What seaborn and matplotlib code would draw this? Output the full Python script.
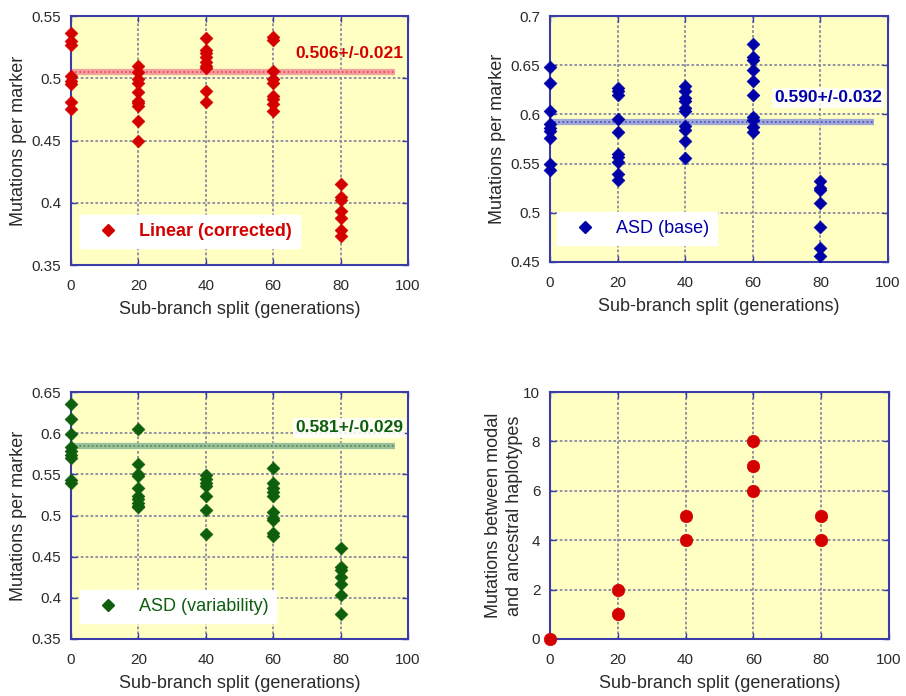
import numpy as np
import pandas as pd
import matplotlib
matplotlib.use("Agg")
import matplotlib.pyplot as plt
import seaborn as sns
from matplotlib.lines import Line2D

sns.set_theme(style="white")
plt.rcParams['font.family'] = ['Liberation Sans', 'DejaVu Sans']

# ---------------- data ----------------
lin_x0 = [0.536, 0.530, 0.527, 0.502, 0.498, 0.495, 0.481, 0.475]
lin_x20 = [0.510, 0.505, 0.499, 0.496, 0.489, 0.482, 0.480, 0.478, 0.466, 0.450]
lin_x40 = [0.532, 0.523, 0.520, 0.517, 0.513, 0.510, 0.508, 0.490, 0.481]
lin_x60 = [0.533, 0.531, 0.506, 0.499, 0.496, 0.486, 0.483, 0.479, 0.474]
lin_x80 = [0.415, 0.405, 0.402, 0.393, 0.388, 0.378, 0.373]

base_x0 = [0.648, 0.632, 0.603, 0.590, 0.586, 0.583, 0.576, 0.550, 0.544]
base_x20 = [0.627, 0.624, 0.620, 0.595, 0.582, 0.560, 0.557, 0.552, 0.539, 0.533]
base_x40 = [0.629, 0.624, 0.617, 0.614, 0.606, 0.603, 0.588, 0.584, 0.573, 0.556]
base_x60 = [0.672, 0.658, 0.655, 0.645, 0.634, 0.620, 0.597, 0.594, 0.587, 0.582]
base_x80 = [0.532, 0.525, 0.523, 0.510, 0.486, 0.464, 0.456]

var_x0 = [0.636, 0.617, 0.599, 0.583, 0.578, 0.573, 0.570, 0.543, 0.539]
var_x20 = [0.605, 0.562, 0.550, 0.548, 0.534, 0.524, 0.520, 0.515, 0.512, 0.510]
var_x40 = [0.549, 0.544, 0.540, 0.536, 0.524, 0.507, 0.477]
var_x60 = [0.558, 0.539, 0.534, 0.528, 0.524, 0.504, 0.497, 0.495, 0.479, 0.475]
var_x80 = [0.460, 0.438, 0.434, 0.425, 0.417, 0.404, 0.380]

split_gens = [0, 20, 40, 60, 80]

modal_x = [0, 20, 20, 40, 40, 60, 60, 60, 80, 80]
modal_y = [0, 1, 2, 4, 5, 6, 7, 8, 4, 5]

series_labels = ["Linear (corrected)", "ASD (base)", "ASD (variability)"]
mean_levels = [0.505, 0.592, 0.585]
mean_texts = ["0.506+/-0.021", "0.590+/-0.032", "0.581+/-0.029"]
mean_line_end = 96

xlabel = "Sub-branch split (generations)"
ylabel_rate = "Mutations per marker"
ylabel_modal = "Mutations between modal\nand ancestral haplotypes"


def to_df(cols):
    xs, ys = [], []
    for g, vals in zip(split_gens, cols):
        xs += [g] * len(vals)
        ys += vals
    return pd.DataFrame({"split": xs, "rate": ys})


df_lin = to_df([lin_x0, lin_x20, lin_x40, lin_x60, lin_x80])
df_base = to_df([base_x0, base_x20, base_x40, base_x60, base_x80])
df_var = to_df([var_x0, var_x20, var_x40, var_x60, var_x80])
df_modal = pd.DataFrame({"split": modal_x, "muts": modal_y})

# ---------------- styling ----------------
W, H = 906, 696
fig = plt.figure(figsize=(W / 100, H / 100), dpi=100)


def px_axes(l, t, r, b):
    return fig.add_axes([l / W, 1 - b / H, (r - l) / W, (b - t) / H])


ax1 = px_axes(71, 16, 408, 265)
ax2 = px_axes(550, 16, 888, 262)
ax3 = px_axes(71, 392, 408, 639)
ax4 = px_axes(550, 392, 889, 639)

bg = "#ffffc4"
frame = "#3c3ca8"
gridc = "#8a8aa0"
textc = "#2a2a2a"
LBL = 13
TCK = 11


def style(ax, ylim, yticks, yfmt):
    ax.set_facecolor(bg)
    ax.set_xlim(0, 100)
    ax.set_ylim(*ylim)
    ax.set_xticks([0, 20, 40, 60, 80, 100])
    ax.set_yticks(yticks)
    ax.set_yticklabels([yfmt(v) for v in yticks])
    ax.grid(True, color=gridc, linestyle=(0, (1.5, 1.2)), linewidth=1.3)
    ax.set_axisbelow(True)
    for s in ax.spines.values():
        s.set_color(frame)
        s.set_linewidth(1.5)
        s.set_visible(True)
    ax.tick_params(direction="in", length=4, width=1, colors=frame,
                   labelcolor=textc, labelsize=TCK, top=True, right=True,
                   left=True, bottom=True)
    ax.tick_params(axis="x", pad=10)
    ax.tick_params(axis="y", pad=7)


def fmt2(v):
    return f"{v:.2f}".rstrip("0").rstrip(".")


panels = [
    (ax1, df_lin, "#d40000", "#f4a0a0", (0.35, 0.55), [0.35, 0.4, 0.45, 0.5, 0.55], True,
     (80, 213, 310, 248)),
    (ax2, df_base, "#0000a8", "#a0a8d8", (0.45, 0.7), [0.45, 0.5, 0.55, 0.6, 0.65, 0.7], False,
     (557, 212, 720, 245)),
    (ax3, df_var, "#0d5e0d", "#9cc09c", (0.35, 0.65), [0.35, 0.4, 0.45, 0.5, 0.55, 0.6, 0.65], False,
     (80, 588, 277, 623)),
]

text_pos = [(403, 53), (882, 98), (403, 428)]
text_box = [False, True, True]

for i, (ax, df, col, light, ylim, yt, bold, lbox) in enumerate(panels):
    style(ax, ylim, yt, fmt2)
    # mean band
    ax.hlines(mean_levels[i], 0, mean_line_end, color=light, linewidth=4.5, zorder=2)
    ax.hlines(mean_levels[i], 0, mean_line_end, color=col, linewidth=1.2,
              linestyles=(0, (1, 1.5)), alpha=0.55, zorder=2)
    sns.scatterplot(data=df, x="split", y="rate", ax=ax, marker="D", s=42,
                    color=col, edgecolor=col, linewidth=0.5, zorder=3, legend=False,
                    clip_on=False)
    ax.set_ylabel(ylabel_rate, fontsize=LBL, color=textc, labelpad=3)
    ax.set_xlabel(xlabel, fontsize=LBL, color=textc, labelpad=6)
    # mean text
    tx, ty = text_pos[i]
    kw = {}
    if text_box[i]:
        kw["bbox"] = dict(facecolor="white", edgecolor="none", pad=1.5, alpha=0.85)
    fig.text(tx / W, 1 - ty / H, mean_texts[i], ha="right", va="center",
             color=col, fontsize=12.5, fontweight="bold", **kw)
    # legend
    l, t, r, b = lbox
    pos = ax.get_position()
    handle = Line2D([], [], marker="D", linestyle="none", color=col, markersize=6)
    leg = ax.legend([handle], [series_labels[i]], loc="lower left",
                    bbox_to_anchor=((l / W - pos.x0) / pos.width,
                                    ((1 - b / H) - pos.y0) / pos.height),
                    frameon=True, fancybox=False, borderpad=0.45, handletextpad=0.6,
                    handlelength=2.2, borderaxespad=0,
                    prop={"weight": "bold" if bold else "normal", "size": 13})
    leg.get_frame().set_facecolor("white")
    leg.get_frame().set_edgecolor("white")
    leg.get_frame().set_alpha(1)
    for txt in leg.get_texts():
        txt.set_color(col)

# panel 4
style(ax4, (0, 10), [0, 2, 4, 6, 8, 10], lambda v: f"{v:d}")
sns.scatterplot(data=df_modal, x="split", y="muts", ax=ax4, marker="o", s=80,
                color="#d40000", edgecolor="#d40000", linewidth=0.5, zorder=3,
                legend=False, clip_on=False)
ax4.set_ylabel(ylabel_modal, fontsize=LBL, color=textc, labelpad=0, linespacing=1.3)
ax4.set_xlabel(xlabel, fontsize=LBL, color=textc, labelpad=6)

fig.savefig("out.png", dpi=100)
